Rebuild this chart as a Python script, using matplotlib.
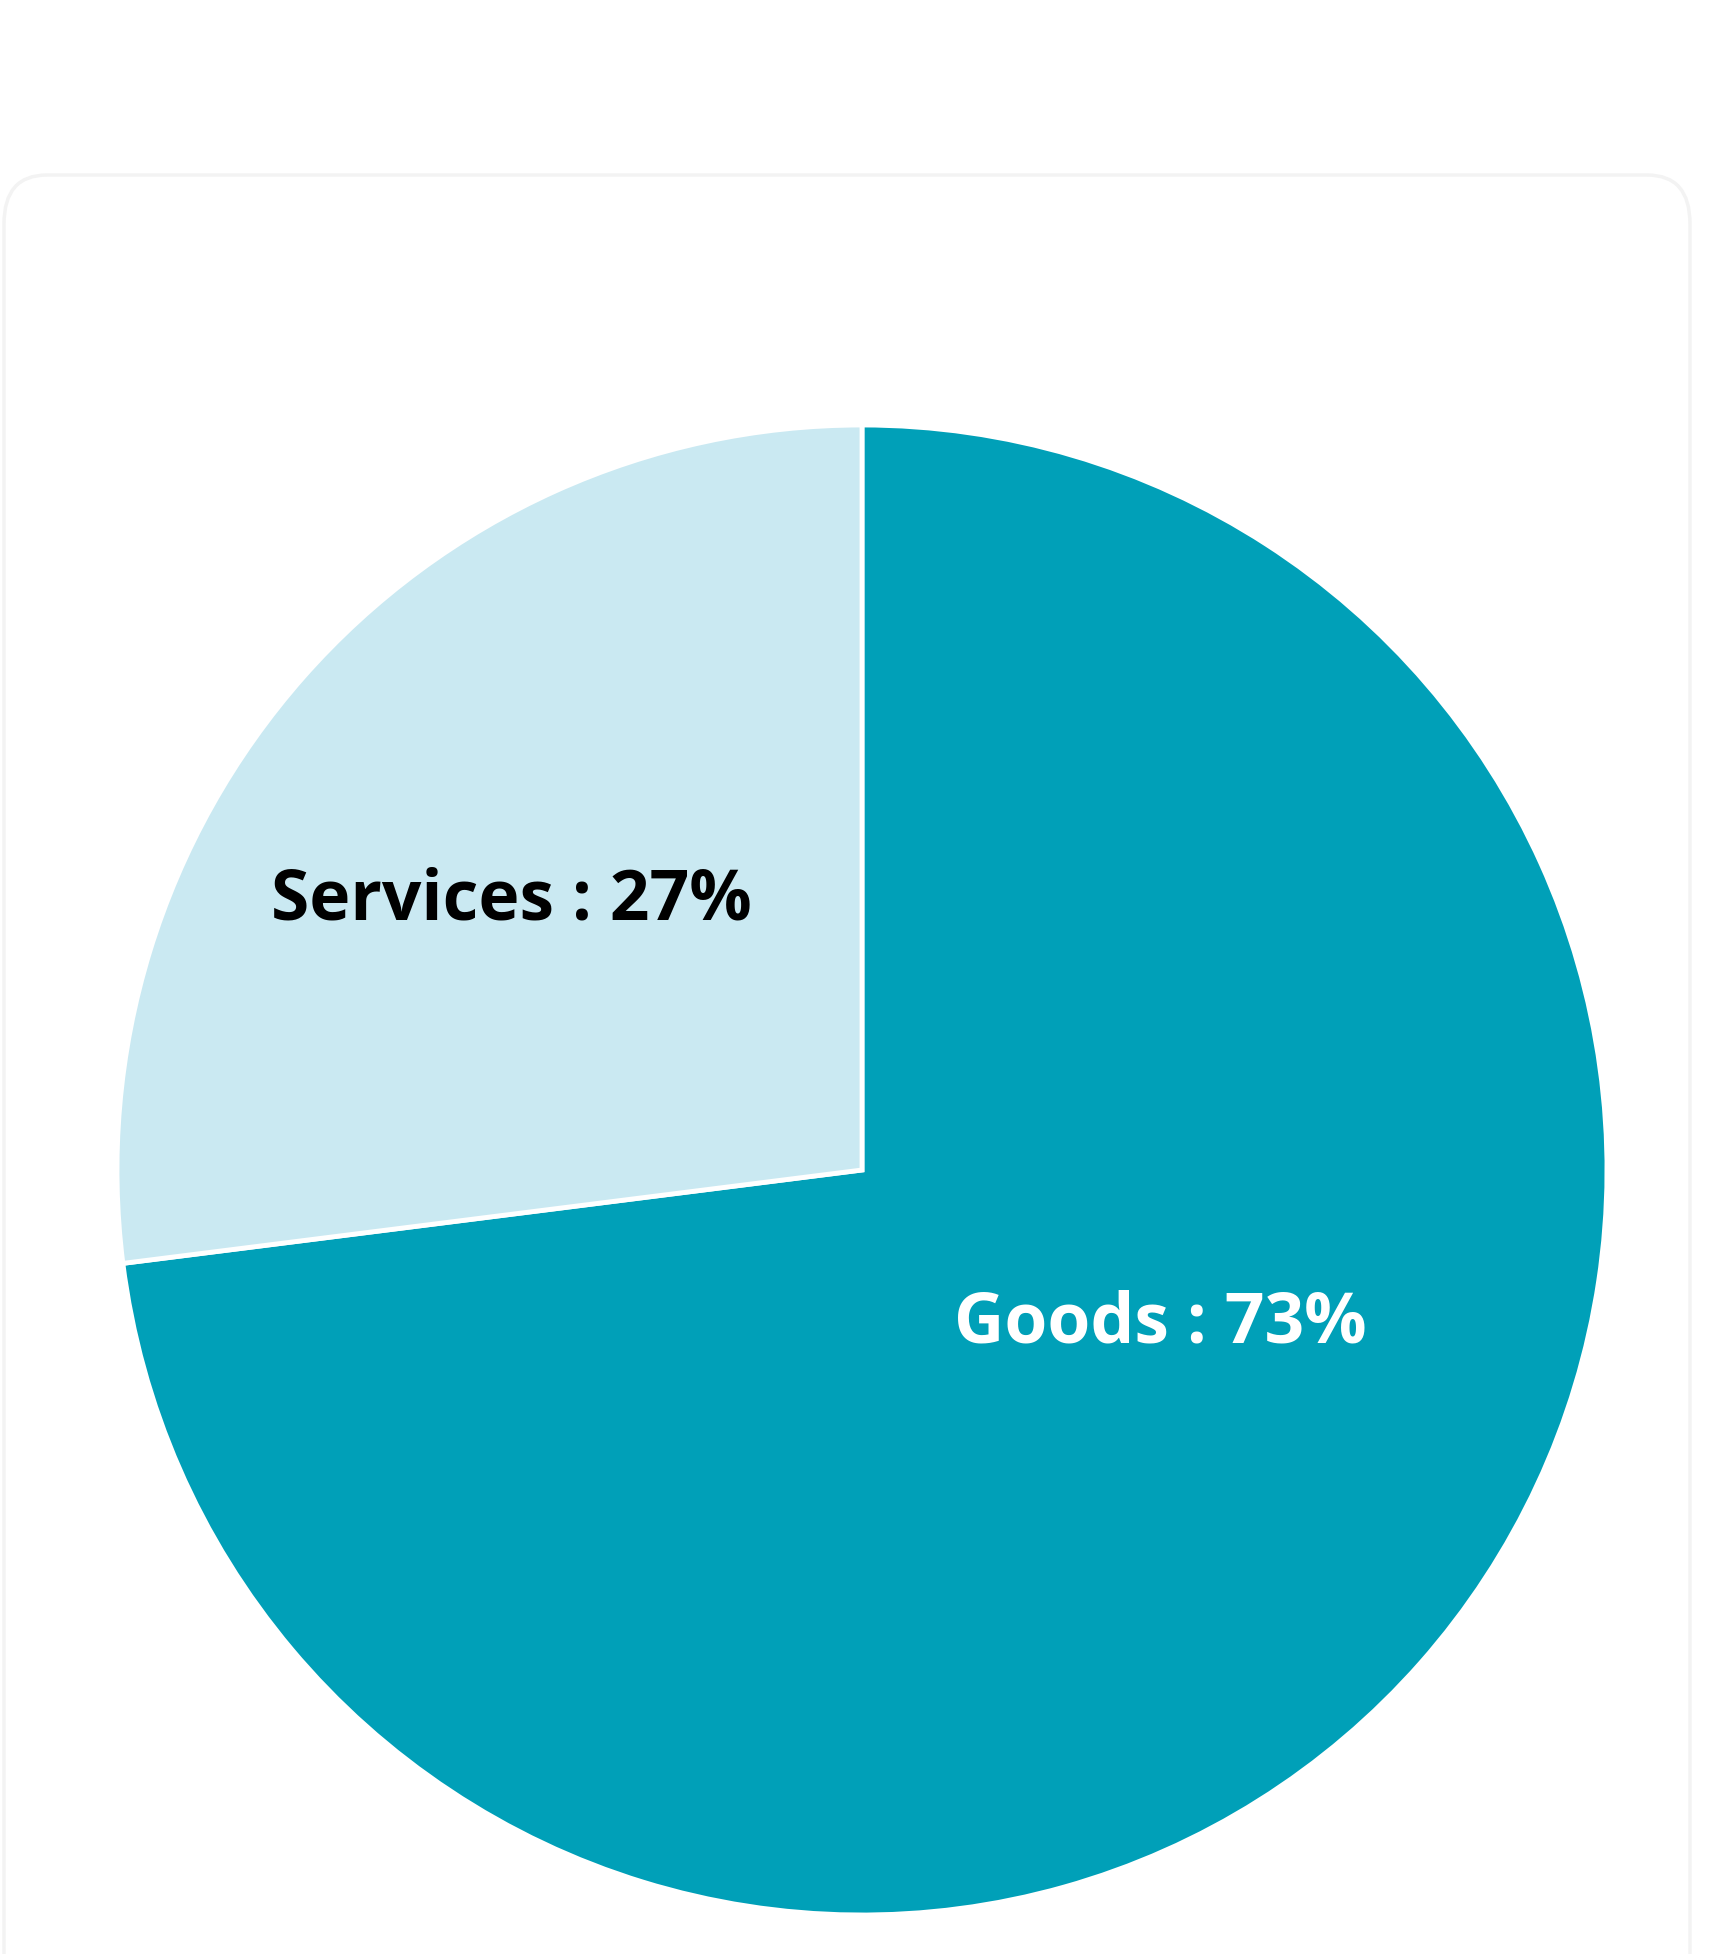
import matplotlib.pyplot as plt
from matplotlib.patches import FancyBboxPatch

# Daten
categories = ["Goods", "Services"]
shares = [73, 27]
slice_colors = ["#00A0B8", "#CAE9F2"]
text_colors = ["white", "black"]

plt.rcParams['font.family'] = ['Open Sans', 'DejaVu Sans']

W, H = 1714, 1954
fig = plt.figure(figsize=(W / 100, H / 100), dpi=100)
fig.patch.set_facecolor("white")

# faint card behind the chart (bottom runs off the image)
card = FancyBboxPatch((4 / W, -60 / H), 1686 / W, (H - 175 + 60) / H,
                      boxstyle="round,pad=0,rounding_size=0.025",
                      transform=fig.transFigure, facecolor="none",
                      edgecolor="#f3f3f3", linewidth=2.5, zorder=0)
fig.patches.append(card)

# pie: center (862, 1170), radius 745 px
cx, cy, r = 862, 1170, 745
ax = fig.add_axes([(cx - r) / W, (H - cy - r) / H, 2 * r / W, 2 * r / H])
wedges, _ = ax.pie(shares, colors=slice_colors, startangle=90, counterclock=False,
                   wedgeprops={"edgecolor": "white", "linewidth": 3.5})
ax.set_xlim(-1, 1)
ax.set_ylim(-1, 1)
ax.set_aspect("equal")
ax.axis("off")

# label positions in pie units
label_pos = [(0.401, -0.207), (-0.471, 0.360)]
for name, val, col, (x, y) in zip(categories, shares, text_colors, label_pos):
    ax.text(x, y, f"{name} : {val}%", color=col, fontsize=50, fontweight="bold",
            ha="center", va="center")

fig.savefig("out.png", dpi=100, facecolor="white")
